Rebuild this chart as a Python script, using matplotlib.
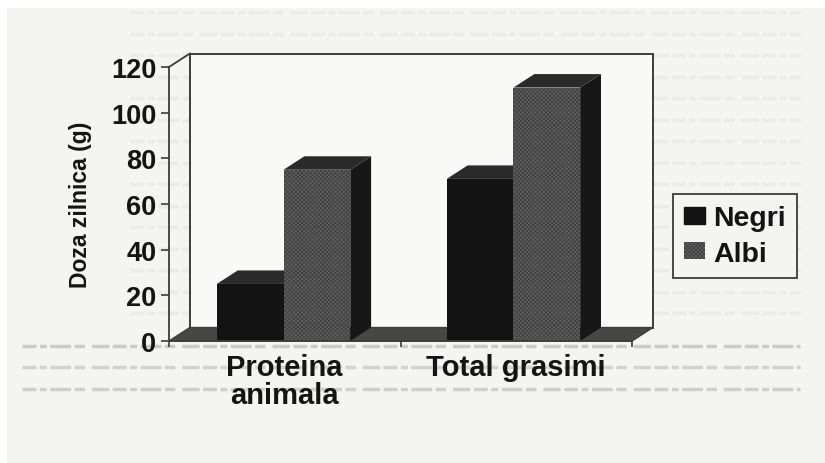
import matplotlib
matplotlib.use("Agg")
import matplotlib.pyplot as plt
from matplotlib.lines import Line2D
from matplotlib.patches import Patch, Rectangle

plt.rcParams["font.family"] = ["Liberation Sans", "DejaVu Sans"]
plt.rcParams["font.weight"] = "bold"
plt.rcParams["hatch.linewidth"] = 0.6

# Data
categories = ["Proteina\nanimala", "Total grasimi"]
negri = [25, 71]
albi = [75, 111]
y_ticks = [0, 20, 40, 60, 80, 100, 120]

# Colours
ink = "#141414"
line_col = "#3c3c3c"
paper = "#f4f4f1"
wall = "#f9f9f7"
black_bar = "#131313"
gray_bar = "#606060"
top_col = "#2a2a2a"
side_col = "#171717"
floor_col = "#474745"

W, H = 825, 464
fig = plt.figure(figsize=(W / 100, H / 100), dpi=100, facecolor="white")

# scanned page behind the chart
fig.add_artist(Rectangle((7 / W, 0), 1, 1 - 9 / H, transform=fig.transFigure,
                         facecolor=paper, edgecolor="none", zorder=-5))
ghost_dash = (0, (4, 1, 2, 1, 6, 1, 3, 2, 5, 1))
for row in range(15):
    yy = 1 - (13 + row * 21.5) / H
    fig.add_artist(Line2D([130 / W, 800 / W], [yy, yy], color="#ebebe8", lw=2.5,
                          ls=ghost_dash, zorder=-4))
for yy_px, col in [(347, "#cbcbc8"), (368, "#d2d2cf"), (390, "#cfcfcc")]:
    fig.add_artist(Line2D([22 / W, 800 / W], [1 - yy_px / H] * 2, color=col, lw=2.5,
                          ls=ghost_dash, zorder=-4))

ax = fig.add_axes([169 / W, 1 - 342 / H, 463 / W, 274 / H])
ax.patch.set_visible(False)
ax.set_xlim(0, 2)
ax.set_ylim(0, 120)

# depth of the 3D box, in axis units
dx = 0.09
dy = 5.9
bar_w = 0.288

# back wall and floor
ax.add_patch(Rectangle((dx, dy), 2, 120, facecolor=wall, edgecolor=line_col, lw=1.4,
                       clip_on=False, zorder=1))
ax.fill([0, dx, 2 + dx, 2], [0, dy, dy, 0], facecolor=floor_col, edgecolor=line_col,
        lw=1, clip_on=False, zorder=2)
ax.plot([0, dx], [120, 120 + dy], color=line_col, lw=1.3, clip_on=False, zorder=3)


def bar3d(x, value, face, order, hatch=None):
    ax.fill([x + bar_w, x + bar_w + dx, x + bar_w + dx, x + bar_w],
            [0, dy, value + dy, value], color=side_col, lw=0, clip_on=False, zorder=order)
    ax.fill([x, x + dx, x + bar_w + dx, x + bar_w],
            [value, value + dy, value + dy, value], color=top_col, lw=0, clip_on=False,
            zorder=order)
    ax.bar(x, value, width=bar_w, align="edge", color=face, hatch=hatch,
           edgecolor="#3f3f3f" if hatch else face, lw=0, clip_on=False, zorder=order + 0.5)


# the scan is slightly rotated, so the second group sits a bit left of its slot
group_shift = [-0.005, -0.012]
for i in range(len(categories)):
    left = i + 0.5 + group_shift[i] - bar_w
    bar3d(left, negri[i], black_bar, 4)
    bar3d(left + bar_w, albi[i], gray_bar, 5, hatch="xxxxxxxx")

# axes
for name in ["top", "right"]:
    ax.spines[name].set_visible(False)
for name in ["left", "bottom"]:
    ax.spines[name].set_color(line_col)
    ax.spines[name].set_linewidth(1.3)
    ax.spines[name].set_zorder(6)

ax.set_yticks(y_ticks)
ax.tick_params(axis="y", length=6, width=1.2, color=line_col, pad=3, labelsize=19.5,
               labelcolor=ink)
ax.set_xticks([0, 1, 2])
ax.set_xticklabels([])
ax.tick_params(axis="x", which="major", length=4, width=1.2, color=line_col)
ax.set_xticks([0.5, 1.5], minor=True)
ax.set_xticklabels(categories, minor=True, fontsize=21, color=ink, linespacing=1.0)
ax.tick_params(axis="x", which="minor", length=0, pad=9)

ax.set_ylabel("Doza zilnica (g)", fontsize=16.5, color=ink, fontweight="bold", labelpad=14, y=0.5)

handles = [Patch(facecolor=black_bar, edgecolor=black_bar, label="Negri"),
           Patch(facecolor=gray_bar, edgecolor="#3f3f3f", hatch="xxxxxxxx", lw=0, label="Albi")]
leg = ax.legend(handles=handles, loc="upper left", bbox_to_anchor=(673 / W, 1 - 195 / H),
                bbox_transform=fig.transFigure, prop={"size": 20.5, "weight": "bold"},
                frameon=True, fancybox=False, framealpha=1, facecolor=paper, edgecolor=line_col,
                borderaxespad=0, handlelength=0.72, handleheight=0.55, handletextpad=0.28,
                labelspacing=0.32, borderpad=0.4)
leg.get_frame().set_linewidth(1.3)
leg.set_zorder(10)
for t in leg.get_texts():
    t.set_color(ink)

fig.savefig("out.png", dpi=100)
